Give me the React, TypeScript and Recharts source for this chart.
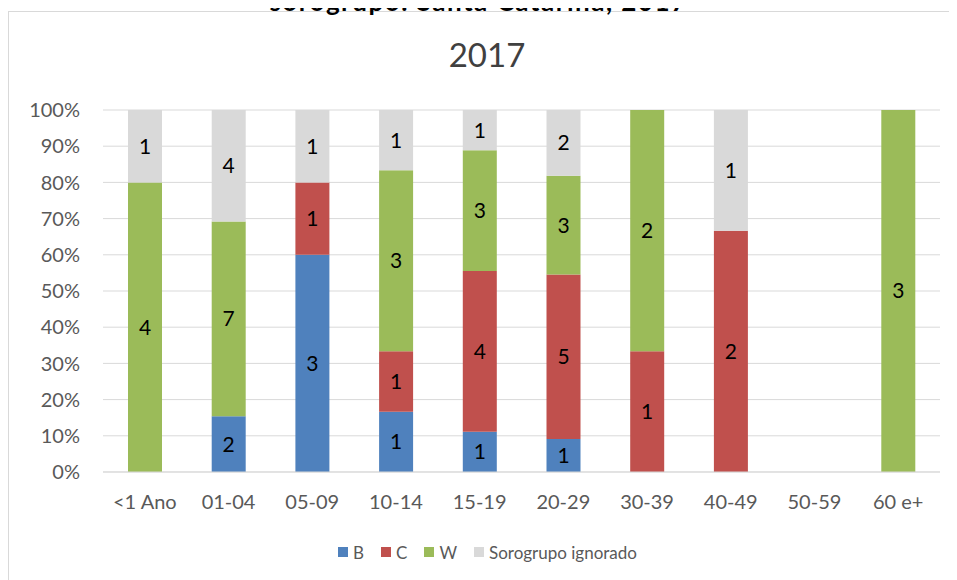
import React from 'react';
import { BarChart, Bar, XAxis, YAxis, CartesianGrid, Legend, LabelList } from 'recharts';

const categories = ['<1 Ano', '01-04', '05-09', '10-14', '15-19', '20-29', '30-39', '40-49', '50-59', '60 e+'];
const seriesB = [0, 2, 3, 1, 1, 1, 0, 0, 0, 0];
const seriesC = [0, 0, 1, 1, 4, 5, 1, 2, 0, 0];
const seriesW = [4, 7, 0, 3, 3, 3, 2, 0, 0, 3];
const seriesI = [1, 4, 1, 1, 1, 2, 0, 1, 0, 0];
const yTicks = [0, 0.1, 0.2, 0.3, 0.4, 0.5, 0.6, 0.7, 0.8, 0.9, 1];

const seriesDefs = [
  { key: 'B', name: 'B', color: '#4F81BD', values: seriesB },
  { key: 'C', name: 'C', color: '#C0504D', values: seriesC },
  { key: 'W', name: 'W', color: '#9BBB59', values: seriesW },
  { key: 'I', name: 'Sorogrupo ignorado', color: '#D9D9D9', values: seriesI },
];

const data = categories.map((cat, i) => {
  const total = seriesB[i] + seriesC[i] + seriesW[i] + seriesI[i];
  const row: any = { cat };
  seriesDefs.forEach((s) => {
    row[s.key + 'n'] = s.values[i];
    row[s.key] = total > 0 ? s.values[i] / total : 0;
  });
  return row;
});

const FONT = 'Lato, "Open Sans", sans-serif';

const LegendContent = () => (
  <div
    style={{
      display: 'flex',
      justifyContent: 'center',
      alignItems: 'center',
      height: 20,
      paddingLeft: 35,
      fontFamily: FONT,
      fontSize: 17,
      color: '#595959',
    }}
  >
    {seriesDefs.map((s) => (
      <div key={s.key} style={{ display: 'flex', alignItems: 'center', marginRight: 17 }}>
        <div style={{ width: 10, height: 10, background: s.color, marginRight: 5 }} />
        <span>{s.name}</span>
      </div>
    ))}
  </div>
);

export default function App() {
  return (
    <div style={{ position: 'relative', marginLeft: -8, marginTop: -8, width: 957, height: 580, overflow: 'hidden', background: '#fff' }}>
      <div
        style={{
          position: 'absolute',
          left: 8,
          top: 11,
          width: 980,
          height: 620,
          border: '1px solid #D9D9D9',
          boxSizing: 'border-box',
        }}
      />
      <div style={{ position: 'absolute', left: 0, top: 0 }}>
        <BarChart
          width={957}
          height={580}
          data={data}
          margin={{ top: 110, right: 17, left: 0, bottom: 18 }}
          barSize={34}
        >
          <CartesianGrid horizontal={true} vertical={false} stroke="#D9D9D9" />
          <XAxis
            dataKey="cat"
            height={70}
            tickLine={false}
            tickSize={0}
            tickMargin={23}
            axisLine={{ stroke: '#D9D9D9' }}
            tick={{ fill: '#595959', fontSize: 20, fontFamily: FONT }}
            interval={0}
          />
          <YAxis
            type="number"
            domain={[0, 1]}
            ticks={yTicks}
            width={103}
            tickLine={false}
            axisLine={false}
            tickSize={0}
            tickMargin={23}
            interval={0}
            tickFormatter={(v: number) => `${Math.round(v * 100)}%`}
            tick={{ fill: '#595959', fontSize: 20, fontFamily: FONT }}
          />
          <Legend
            verticalAlign="bottom"
            align="center"
            content={<LegendContent />}
            wrapperStyle={{ left: 0, width: 957 }}
          />
          {seriesDefs.map((s) => (
            <Bar key={s.key} dataKey={s.key} name={s.name} stackId="a" fill={s.color} isAnimationActive={false}>
              <LabelList
                dataKey={s.key + 'n'}
                position="center"
                fill="#000"
                fontSize={21}
                fontFamily={FONT}
                formatter={(v: any) => (v ? String(v) : '')}
              />
            </Bar>
          ))}
        </BarChart>
      </div>
      <div
        style={{
          position: 'absolute',
          left: 0,
          top: -15,
          width: 957,
          textAlign: 'center',
          whiteSpace: 'nowrap',
          fontFamily: FONT,
          fontWeight: 700,
          fontSize: 26,
          lineHeight: 'normal',
          letterSpacing: 1.5,
          color: '#000',
          pointerEvents: 'none',
        }}
      >
        sorogrupo. Santa Catarina, 2017
      </div>
      <svg width={957} height={100} style={{ position: 'absolute', left: 0, top: 0, pointerEvents: 'none' }}>
        <text x={487} y={67} textAnchor="middle" fontFamily={FONT} fontSize={33} fill="#404040">
          2017
        </text>
      </svg>
    </div>
  );
}
